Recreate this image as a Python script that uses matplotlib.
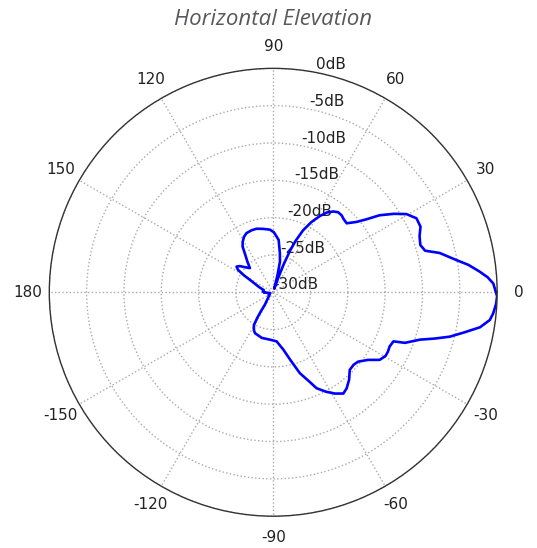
import matplotlib
matplotlib.use('AGG')

import numpy as np
import matplotlib.pyplot as plt

# angle in degrees, gain in dB
angles = [-180, -175, -165, -150, -140, -130, -124, -123, -122, -120.5,
          -117, -114, -104, -92, -86, -80, -75.7, -71.8, -68, -65.7,
          -62, -58.6, -55.3, -52.6, -49, -45.4, -42, -39.2, -35.5, -32.4,
          -29.5, -27.3, -25, -22.2, -21, -17.9, -16, -14.1, -11.8, -9.6,
          -7.3, -5.5, -3, -1, 2.3, 4, 5.7, 8, 10, 13.3,
          15.3, 17.8, 21, 24, 27.3, 30.4, 33, 35.9, 38, 40.2,
          43.2, 46, 48.5, 51, 53.3, 56, 58.5, 61.5, 64.3, 66.5,
          68, 69.5, 71, 73, 75, 76, 77.6, 80.3, 84.1, 89.3,
          93, 99, 104.7, 109.1, 114.3, 117.8, 121.2, 123.9, 126, 130,
          134, 138, 142, 145, 147.5, 150, 152, 160, 167, 175,
          180]
gain_db = [-28.8, -29.2, -29.6, -29.3, -29.3, -28.8, -28.0, -27.0, -26.0, -24.9,
           -24.3, -24.0, -23.7, -23.6, -23.4, -22.2, -20.6, -18.6, -17.1, -15.9,
           -14.9, -14.1, -13.5, -13.8, -14.5, -15.4, -15.5, -15.3, -14.4, -13.1,
           -12.7, -12.7, -12.8, -12.6, -11.1, -9.35, -7.5, -5.6, -3.8, -1.9,
           -0.75, -0.4, -0.1, 0.0, -0.5, -1.2, -2.2, -3.6, -5.1, -7.1,
           -8.9, -9.3, -9.0, -8.4, -8.4, -9.3, -10.7, -12.4, -14.1, -15.4,
           -16.5, -16.4, -16.2, -16.2, -16.5, -17.1, -18.0, -19.3, -20.8, -22.5,
           -24.0, -26.0, -28.0, -29.5, -29.5, -27.6, -25.8, -24.7, -22.95, -21.97,
           -21.6, -21.4, -21.2, -21.2, -21.3, -21.6, -22.1, -22.65, -23.5, -24.6,
           -25.5, -25.0, -24.3, -24.0, -24.4, -25.5, -26.5, -28.0, -28.7, -28.6,
           -28.8]

theta_ticks = [0, 30, 60, 90, 120, 150, 180, 210, 240, 270, 300, 330]
theta_labels = ['0', '30', '60', '90', '120', '150', '180',
                '-150', '-120', '-90', '-60', '-30']
r_ticks = [-30, -25, -20, -15, -10, -5, 0]
r_labels = ['%ddB' % v for v in r_ticks]
title = 'Horizontal Elevation'

fig = plt.figure(figsize=(5.37, 5.48), dpi=100)
ax = fig.add_axes([0.0918, 0.0579, 0.834, 0.8175], projection='polar')

ax.plot(np.radians(angles), gain_db, color='#0000ff', lw=1.9)

ax.set_ylim(-30, 0)
ax.set_thetagrids(theta_ticks, labels=theta_labels, fontsize=11,
                  color='#222222')
ax.set_rgrids(r_ticks, labels=r_labels, fontsize=11, color='#222222')
ax.set_rlabel_position(79)
ax.tick_params(axis='x', pad=5)
ax.grid(True, color='#aaaaaa', linestyle=':', linewidth=1.0)
ax.spines['polar'].set_color('#333333')
ax.spines['polar'].set_linewidth(1.0)

fig.text(0.509, 1 - 19.5 / 548, title, ha='center', va='center',
         fontsize=16, style='italic', family='Open Sans', color='#58585f')

fig.savefig('out.png', dpi=100)
